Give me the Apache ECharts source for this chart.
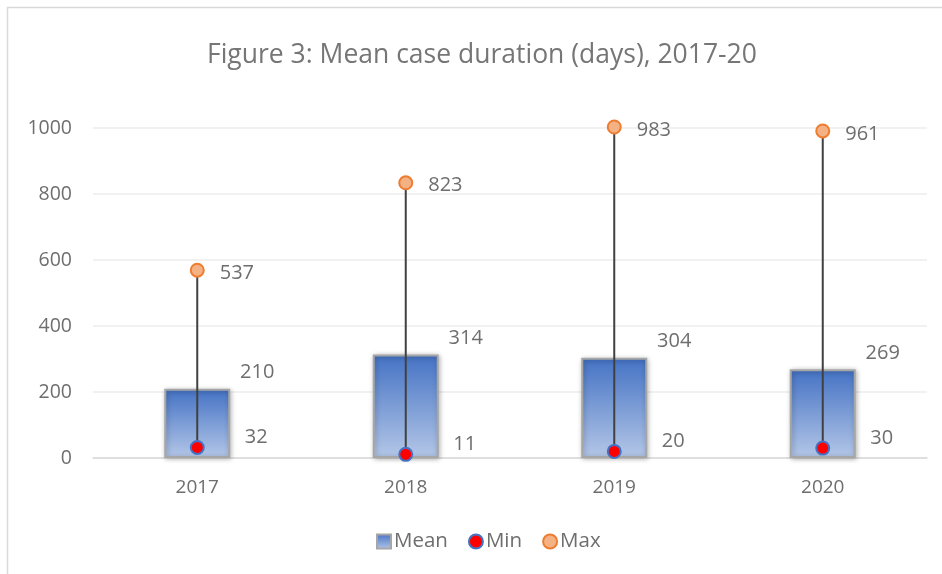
<!DOCTYPE html>
<html><head><meta charset="utf-8">
<script src="https://cdn.jsdelivr.net/npm/echarts@6/dist/echarts.min.js"></script>
<style>html,body{margin:0;padding:0;background:#fff}#c{width:942px;height:574px}</style>
</head><body><div id="c"></div>
<script>
const categories = ['2017', '2018', '2019', '2020'];
const meanValues = [210, 314, 304, 269];
const minValues = [32, 11, 20, 30];
const maxValues = [537, 823, 983, 961];
const yTicks = [0, 200, 400, 600, 800, 1000];

const FONT = '"Open Sans", "Noto Sans", sans-serif';
const TXT = '#6e6e6e';
const chart = echarts.init(document.getElementById('c'));
const hlData = categories.map((c, i) => [i, minValues[i], maxValues[i]]);

chart.setOption({
  animation: false,
  textStyle: { fontFamily: FONT },
  graphic: [{ type: 'rect', shape: { x: 7.5, y: 7.5, width: 1000, height: 1000 }, style: { fill: 'none', stroke: '#d9d9d9', lineWidth: 1.5 }, silent: true }],
  title: {
    text: 'Figure 3: Mean case duration (days), 2017-20',
    left: 202, top: 37,
    textStyle: { fontFamily: FONT, fontSize: 26.5, fontWeight: 'normal', color: '#767676' }
  },
  grid: { left: 93, right: 15, top: 128, bottom: 116 },
  legend: {
    bottom: 17, left: 371, itemWidth: 14, itemHeight: 14, itemGap: 20,
    textStyle: { fontFamily: FONT, fontSize: 20.5, color: TXT, padding: [0, 0, 0, -2] },
    data: [{ name: 'Mean', icon: 'rect' }, { name: 'Min', icon: 'circle' }, { name: 'Max', icon: 'circle' }]
  },
  xAxis: {
    type: 'category', data: categories,
    axisLine: { lineStyle: { color: '#d9d9d9', width: 1.5 } },
    axisTick: { show: false },
    axisLabel: { fontFamily: FONT, fontSize: 19, color: TXT, margin: 20 }
  },
  yAxis: {
    type: 'value', min: yTicks[0], max: yTicks[yTicks.length - 1], interval: 200,
    axisLine: { show: false }, axisTick: { show: false },
    splitLine: { lineStyle: { color: '#ededed', width: 1.5 } },
    axisLabel: { fontFamily: FONT, fontSize: 19.5, color: TXT, margin: 21, formatter: v => String(v) }
  },
  series: [
    {
      name: 'Mean', type: 'bar', data: meanValues, barWidth: 66, z: 2,
      itemStyle: {
        color: new echarts.graphic.LinearGradient(0, 0, 0, 1, [
          { offset: 0, color: '#4472c4' }, { offset: 1, color: '#b4c7e7' }]),
        borderColor: '#a6a6a6', borderWidth: 2,
        shadowBlur: 5, shadowColor: 'rgba(0,0,0,0.3)', shadowOffsetX: 1, shadowOffsetY: 1
      },
      label: { show: true, position: 'top', offset: [60, -1], fontFamily: FONT, fontSize: 20, color: TXT }
    },
    {
      type: 'custom', data: hlData, z: 3, silent: true, clip: false,
      renderItem: function (params, api) {
        const x = api.value(0);
        const p1 = api.coord([x, api.value(1)]);
        const p2 = api.coord([x, api.value(1) + api.value(2)]);
        return { type: 'line', shape: { x1: p1[0], y1: p1[1], x2: p2[0], y2: p2[1] },
          style: { stroke: '#404040', lineWidth: 2 } };
      }
    },
    {
      name: 'Min', type: 'line', stack: 'hl', data: minValues, z: 5, clip: false,
      symbol: 'circle', symbolSize: 13,
      lineStyle: { opacity: 0 },
      itemStyle: { color: '#ff0000', borderColor: '#4472c4', borderWidth: 2 },
      label: { show: true, position: 'right', distance: 40, offset: [0, -10], fontFamily: FONT, fontSize: 20, color: TXT }
    },
    {
      name: 'Max', type: 'line', stack: 'hl', data: maxValues, z: 5, clip: false,
      symbol: 'circle', symbolSize: 13,
      lineStyle: { opacity: 0 },
      itemStyle: { color: '#f4b183', borderColor: '#ed7d31', borderWidth: 2 },
      label: { show: true, position: 'right', distance: 15, offset: [0, 3], fontFamily: FONT, fontSize: 20, color: TXT }
    }
  ]
});
</script></body></html>
